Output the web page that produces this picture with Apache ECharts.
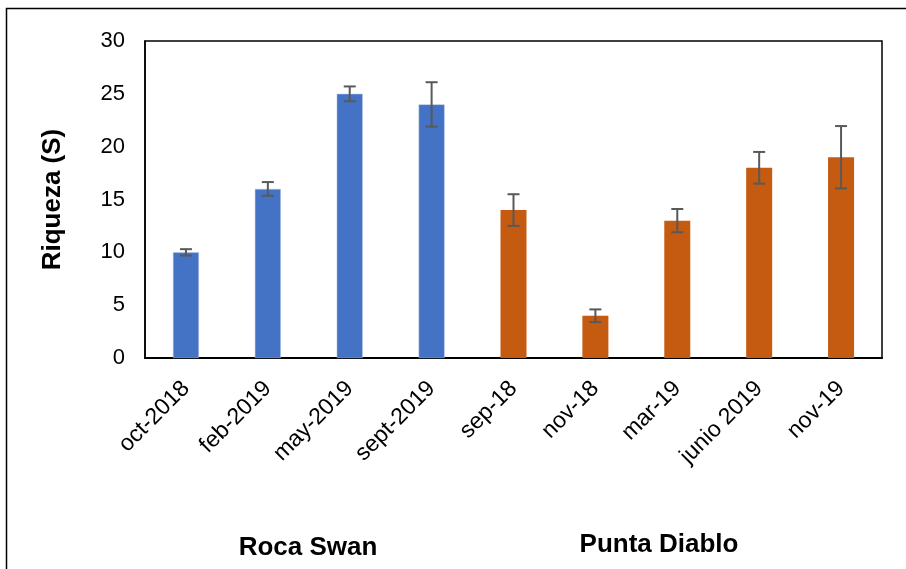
<!DOCTYPE html>
<html>
<head>
<meta charset="utf-8">
<script src="https://cdn.jsdelivr.net/npm/echarts@6/dist/echarts.min.js"></script>
<style>
html,body{margin:0;padding:0;background:#fff;}
#chart{width:906px;height:569px;}
</style>
</head>
<body>
<div id="chart"></div>
<script>
var categories = ['oct-2018','feb-2019','may-2019','sept-2019','sep-18','nov-18','mar-19','junio 2019','nov-19'];
var rocaSwan = [10, 16, 25, 24, null, null, null, null, null];
var puntaDiablo = [null, null, null, null, 14, 4, 13, 18, 19];
var errors = [0.3, 0.65, 0.7, 2.1, 1.5, 0.6, 1.1, 1.5, 2.95];
var groupLabels = ['Roca Swan', 'Punta Diablo'];
var yTicks = [0, 5, 10, 15, 20, 25, 30];

var FONT = '"Liberation Sans", Arial, sans-serif';
var chart = echarts.init(document.getElementById('chart'), null, {renderer:'canvas'});

var errData = categories.map(function(c, i){
  var v = rocaSwan[i] != null ? rocaSwan[i] : puntaDiablo[i];
  return [i, v - errors[i], v + errors[i]];
});

var option = {
  animation: false,
  backgroundColor: '#fff',
  grid: {left:145, right:24, top:41, bottom:211, show:true, borderColor:'#000', borderWidth:1.5, containLabel:false},
  xAxis: {
    type:'category', data: categories,
    axisLine:{show:true, lineStyle:{color:'#000', width:2}},
    axisTick:{show:false},
    axisLabel:{rotate:45, margin:27, fontSize:23, color:'#000', fontFamily:FONT, interval:0},
    splitLine:{show:false}
  },
  yAxis: {
    type:'value', min:yTicks[0], max:yTicks[yTicks.length-1], interval:5,
    name:'Riqueza (S)', nameLocation:'middle', nameGap:79,
    nameTextStyle:{fontSize:26, fontWeight:'bold', color:'#000', fontFamily:FONT},
    axisLine:{show:true, lineStyle:{color:'#000', width:1.5}},
    axisTick:{show:false},
    axisLabel:{fontSize:22, color:'#000', fontFamily:FONT, margin:20},
    splitLine:{show:false}
  },
  series: [
    {type:'bar', name:'Roca Swan', data: rocaSwan, stack:'s', barWidth:26,
     itemStyle:{color:'#4472C4', borderColor:'#B4C7E7', borderWidth:0.5}},
    {type:'bar', name:'Punta Diablo', data: puntaDiablo, stack:'s', barWidth:26,
     itemStyle:{color:'#C55A11'}},
    {type:'custom', name:'error', data: errData, z:10,
     renderItem: function(params, api){
       var x = api.value(0);
       var lo = api.coord([x, api.value(1)]);
       var hi = api.coord([x, api.value(2)]);
       var hw = 6;
       var st = {stroke:'#595959', lineWidth:2};
       return {type:'group', children:[
         {type:'line', shape:{x1:lo[0], y1:lo[1], x2:hi[0], y2:hi[1]}, style:st},
         {type:'line', shape:{x1:lo[0]-hw, y1:lo[1], x2:lo[0]+hw, y2:lo[1]}, style:st},
         {type:'line', shape:{x1:hi[0]-hw, y1:hi[1], x2:hi[0]+hw, y2:hi[1]}, style:st}
       ]};
     }}
  ],
  graphic: [
    {type:'rect', left:4, top:6, shape:{x:0, y:0, width:1000, height:1000}, style:{fill:'none', stroke:'#000', lineWidth:1.5}, silent:true},
    {type:'text', x:308, y:548, style:{text:groupLabels[0], fontSize:26, fontWeight:'bold', fill:'#000', fontFamily:FONT, textAlign:'center', textVerticalAlign:'middle'}},
    {type:'text', x:659, y:545, style:{text:groupLabels[1], fontSize:26, fontWeight:'bold', fill:'#000', fontFamily:FONT, textAlign:'center', textVerticalAlign:'middle'}}
  ]
};
chart.setOption(option);
</script>
</body>
</html>
